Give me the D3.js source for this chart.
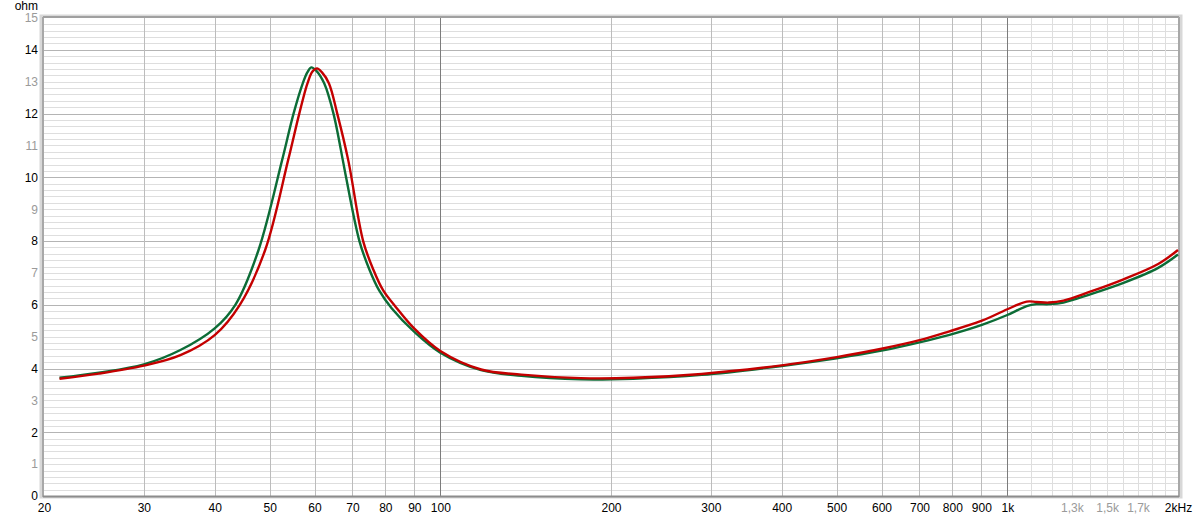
<!DOCTYPE html>
<meta charset="utf-8">
<style>
    body {
        margin: 0;
        background: #fff;
    }
    svg text {
        font: 12px "Liberation Sans", Arial, sans-serif;
    }
</style>
<script src="https://d3js.org/d3.v7.min.js"></script>
<div id="chart"></div>
<script>

    // impedance readings, green trace
    var greenFreq = [21.3, 25, 30, 34.8, 40, 43.5, 47.8, 52.6, 55.1, 57.2, 58.3, 59.2, 60.4, 62.4, 64.8, 67.3, 68.2, 72, 75, 78, 82, 90, 100, 118, 139, 177, 219, 289, 400, 500, 600, 700, 788, 902, 1000, 1082, 1125, 1184, 1256, 1400, 1603, 1845, 2000];
    var greenOhm  = [3.71, 3.87, 4.13, 4.58, 5.26, 6.0, 7.72, 10.54, 12.0, 12.95, 13.3, 13.45, 13.35, 12.95, 12.0, 10.54, 10.0, 8.0, 7.1, 6.45, 5.9, 5.15, 4.5, 3.95, 3.77, 3.66, 3.68, 3.80, 4.08, 4.32, 4.56, 4.82, 5.05, 5.37, 5.68, 5.96, 6.02, 6.02, 6.07, 6.33, 6.69, 7.16, 7.58];

    // impedance readings, red trace
    var redFreq = [21.3, 25, 30, 34.8, 40, 44.3, 49.1, 53.9, 56.4, 58.3, 59.5, 60.6, 61.8, 63.6, 65.8, 68.8, 73.1, 76.2, 79.3, 83.3, 90, 100, 118, 139, 177, 219, 289, 400, 500, 600, 700, 788, 902, 1000, 1082, 1125, 1184, 1256, 1400, 1603, 1845, 2000];
    var redOhm  = [3.68, 3.84, 4.09, 4.42, 5.05, 6.0, 7.72, 10.54, 12.0, 12.95, 13.32, 13.42, 13.3, 12.95, 12.0, 10.54, 8.0, 7.1, 6.45, 5.95, 5.25, 4.55, 3.97, 3.81, 3.70, 3.71, 3.83, 4.10, 4.36, 4.62, 4.89, 5.16, 5.50, 5.86, 6.10, 6.09, 6.07, 6.13, 6.41, 6.80, 7.28, 7.72];

    // grid & ticks
    var gridMid   = [30, 40, 50, 60, 70, 80, 90, 200, 300, 400, 500, 600, 700, 800, 900];
    var gridDark  = [100, 1000];
    var gridLight = [1100, 1200, 1300, 1400, 1500, 1600, 1700, 1800, 1900];
    var xTickVals  = [20, 30, 40, 50, 60, 70, 80, 90, 100, 200, 300, 400, 500, 600, 700, 800, 900, 1000, 1300, 1500, 1700, 2000];
    var xTickNames = ["20", "30", "40", "50", "60", "70", "80", "90", "100", "200", "300", "400", "500", "600", "700", "800", "900", "1k", "1,3k", "1,5k", "1,7k", "2kHz"];
    var xGreyTicks = ["1,3k", "1,5k", "1,7k"];
    var yTickVals = [0, 1, 2, 3, 4, 5, 6, 7, 8, 9, 10, 11, 12, 13, 14, 15];

    var W = 1200, H = 521;
    var pL = 44, pR = 1178, pT = 18, pB = 496;

    var svg = d3.select("#chart")
        .append("svg")
        .attr("width", W)
        .attr("height", H);

    var x = d3.scaleLog().domain([20, 2000]).range([pL, pR]);
    var y = d3.scaleLinear().domain([0, 15]).range([pB, pT]);

    // frame shadow
    svg.append("rect")
        .attr("x", pL - 3).attr("y", pT - 2)
        .attr("width", pR - pL + 6).attr("height", pB - pT + 3)
        .attr("fill", "none")
        .attr("stroke", "#d8d8d8")
        .attr("stroke-width", 3);

    svg.append("rect")
        .attr("x", pL).attr("y", pT)
        .attr("width", pR - pL).attr("height", pB - pT)
        .attr("fill", "#fff");

    // horizontal grid (0.2 ohm steps)
    var hLines = d3.range(0, 75).map(function(i) { return i / 5; });
    svg.append("g").selectAll("line")
        .data(hLines)
        .enter().append("line")
        .attr("x1", pL).attr("x2", pR)
        .attr("y1", function(d) { return Math.round(y(d)) + 0.5; })
        .attr("y2", function(d) { return Math.round(y(d)) + 0.5; })
        .attr("stroke", function(d, i) { return (i % 10 === 0) ? "#b4b4b4" : "#dedede"; })
        .attr("stroke-width", 1);

    function vGrid(vals, col) {
        svg.append("g").selectAll("line")
            .data(vals)
            .enter().append("line")
            .attr("x1", function(d) { return Math.round(x(d)) + 0.5; })
            .attr("x2", function(d) { return Math.round(x(d)) + 0.5; })
            .attr("y1", pT).attr("y2", pB)
            .attr("stroke", col)
            .attr("stroke-width", 1);
    }
    vGrid(gridLight, "#dedede");
    vGrid(gridMid, "#bcbcbc");
    vGrid(gridDark, "#7c7c7c");

    // frame lines
    svg.append("line").attr("x1", pL - 1).attr("x2", pL - 1).attr("y1", pT - 1).attr("y2", pB + 1)
        .attr("stroke", "#a8a8a8").attr("stroke-width", 2);
    svg.append("line").attr("x1", pL - 1).attr("x2", pR + 1).attr("y1", pT - 1).attr("y2", pT - 1)
        .attr("stroke", "#a0a0a0").attr("stroke-width", 2);
    svg.append("line").attr("x1", pR + 1).attr("x2", pR + 1).attr("y1", pT - 1).attr("y2", pB + 1)
        .attr("stroke", "#a8a8a8").attr("stroke-width", 2);
    svg.append("line").attr("x1", pL - 1).attr("x2", pR + 1).attr("y1", pB + 0.5).attr("y2", pB + 0.5)
        .attr("stroke", "#8c8c8c").attr("stroke-width", 2);

    // traces
    var line = d3.line()
        .x(function(d) { return x(d[0]); })
        .y(function(d) { return y(d[1]); })
        .curve(d3.curveCatmullRom.alpha(0.5));

    var greenData = d3.zip(greenFreq, greenOhm);
    var redData = d3.zip(redFreq, redOhm);

    svg.append("path")
        .datum(greenData)
        .attr("d", line)
        .attr("fill", "none")
        .attr("stroke", "#0c6c36")
        .attr("stroke-width", 2.4);

    svg.append("path")
        .datum(redData)
        .attr("d", line)
        .attr("fill", "none")
        .attr("stroke", "#c40000")
        .attr("stroke-width", 2.4);

    // axes
    var xAxis = svg.append("g")
        .attr("transform", "translate(0," + pB + ")")
        .call(d3.axisBottom(x)
            .tickValues(xTickVals)
            .tickFormat(function(d, i) { return xTickNames[i]; })
            .tickSize(0)
            .tickPadding(7));
    xAxis.select(".domain").remove();
    xAxis.selectAll("text")
        .attr("fill", function(d, i) { return xGreyTicks.indexOf(xTickNames[i]) >= 0 ? "#9a9a9a" : "#000"; })
        .style("font-size", "12px");

    var yAxis = svg.append("g")
        .attr("transform", "translate(" + (pL - 4) + ",0)")
        .call(d3.axisLeft(y)
            .tickValues(yTickVals)
            .tickFormat(d3.format("d"))
            .tickSize(0)
            .tickPadding(2));
    yAxis.select(".domain").remove();
    yAxis.selectAll("text")
        .attr("fill", function(d) { return d % 2 === 0 ? "#000" : "#9a9a9a"; })
        .style("font-size", "12px");

    svg.append("text")
        .attr("x", 38)
        .attr("y", 10)
        .attr("text-anchor", "end")
        .attr("fill", "#000")
        .text("ohm");

</script>
